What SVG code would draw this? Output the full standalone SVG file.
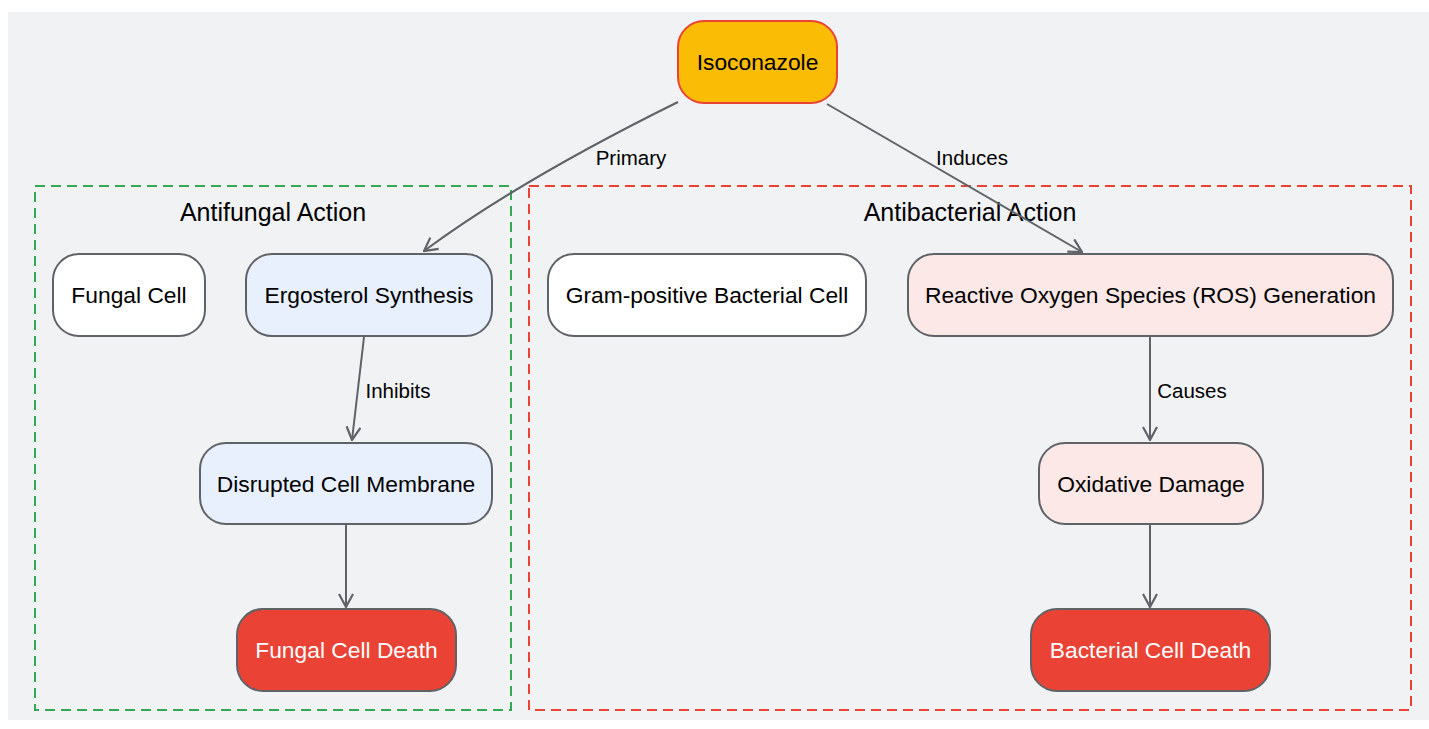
<svg xmlns="http://www.w3.org/2000/svg" width="1429" height="729" viewBox="0 0 1429 729">
<defs>
<style>
.node rect{stroke:#5f6368;stroke-width:2}
.t{font-family:"Liberation Sans",Arial,sans-serif;font-size:22.8px;text-anchor:middle;dominant-baseline:central;fill:#000000}
.w{fill:#ffffff}
.lbl{font-family:"Liberation Sans",Arial,sans-serif;font-size:20.5px;text-anchor:middle;dominant-baseline:central;fill:#000000}
.title{font-family:"Liberation Sans",Arial,sans-serif;font-size:25px;text-anchor:middle;dominant-baseline:central;fill:#000000}
.edge{fill:none;stroke:#5f6368;stroke-width:2;marker-end:url(#arr)}
</style>
<marker id="arr" viewBox="0 0 16 16" refX="15" refY="8" markerWidth="16" markerHeight="16" markerUnits="userSpaceOnUse" orient="auto">
<path d="M2,1 L15,8 L2,15" fill="none" stroke="#5f6368" stroke-width="2.2"/>
</marker>
</defs>
<rect x="8" y="12" width="1421" height="708" fill="#f1f2f4"/>
<g id="cluster-antifungal">
<rect x="35" y="186" width="476" height="524" fill="none" stroke="#34a853" stroke-width="2" stroke-dasharray="10,6"/>
<text class="title" x="273" y="212">Antifungal Action</text>
</g>
<g id="cluster-antibacterial">
<rect x="529" y="186" width="882" height="524" fill="none" stroke="#ea4335" stroke-width="2" stroke-dasharray="10,6"/>
<text class="title" x="970" y="212">Antibacterial Action</text>
</g>
<g id="connectors">
<path class="edge" d="M678,102 Q520,180 424,251"/>
<text class="lbl" x="631" y="157">Primary</text>
<path class="edge" d="M827,104 L1082,252"/>
<text class="lbl" x="972" y="157">Induces</text>
<path class="edge" d="M364,337 L352,440"/>
<text class="lbl" x="398" y="390">Inhibits</text>
<path class="edge" d="M346,525 L346,607"/>
<path class="edge" d="M1150,337 L1150,440"/>
<text class="lbl" x="1192" y="390">Causes</text>
<path class="edge" d="M1150,525 L1150,607"/>
</g>
<g id="isoconazole" class="node">
<rect x="678" y="21" width="159" height="82" rx="26" fill="#fbbc05" style="stroke:#ea4335"/>
<text class="t" x="757.5" y="62">Isoconazole</text>
</g>
<g id="fungal-cell" class="node">
<rect x="53" y="254" width="152" height="82" rx="26" fill="#ffffff"/>
<text class="t" x="129" y="295">Fungal Cell</text>
</g>
<g id="ergosterol-synthesis" class="node">
<rect x="246" y="254" width="246" height="82" rx="26" fill="#e8f0fe"/>
<text class="t" x="369" y="295">Ergosterol Synthesis</text>
</g>
<g id="disrupted-cell-membrane" class="node">
<rect x="200" y="443" width="292" height="81" rx="26" fill="#e8f0fe"/>
<text class="t" x="346" y="484">Disrupted Cell Membrane</text>
</g>
<g id="fungal-cell-death" class="node">
<rect x="237" y="609" width="219" height="82" rx="26" fill="#ea4335"/>
<text class="t w" x="346.5" y="650">Fungal Cell Death</text>
</g>
<g id="gram-positive" class="node">
<rect x="548" y="254" width="318" height="82" rx="26" fill="#ffffff"/>
<text class="t" x="707" y="295">Gram-positive Bacterial Cell</text>
</g>
<g id="ros-generation" class="node">
<rect x="908" y="254" width="485" height="82" rx="26" fill="#fce8e6"/>
<text class="t" x="1150.5" y="295">Reactive Oxygen Species (ROS) Generation</text>
</g>
<g id="oxidative-damage" class="node">
<rect x="1039" y="443" width="224" height="81" rx="26" fill="#fce8e6"/>
<text class="t" x="1151" y="484">Oxidative Damage</text>
</g>
<g id="bacterial-cell-death" class="node">
<rect x="1031" y="609" width="239" height="82" rx="26" fill="#ea4335"/>
<text class="t w" x="1150.5" y="650">Bacterial Cell Death</text>
</g>
</svg>
